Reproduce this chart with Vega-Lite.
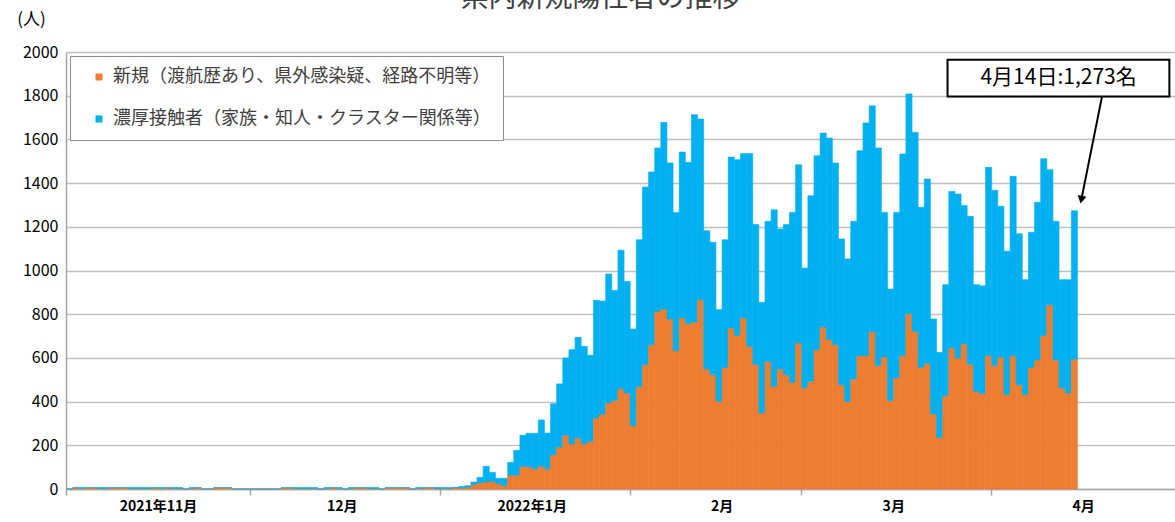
{
  "$schema": "https://vega.github.io/schema/vega-lite/v6.json",
  "autosize": "none",
  "width": 1109,
  "height": 437,
  "padding": {"left": 66, "top": 52, "right": 0, "bottom": 33},
  "background": "white",
  "title": {"text": "県内新規陽性者の推移", "fontSize": 28, "font": "Noto Sans CJK JP", "fontWeight": "normal", "color": "#404040", "anchor": "middle", "frame": "group", "offset": 0, "dx": -20, "dy": 3},
  "config": {"view": {"stroke": null}, "font": "Noto Sans CJK JP"},
  "layer": [
    {
      "data": {"values": [
        {"d":"2021-11-01","new":0,"close":0},{"d":"2021-11-02","new":6,"close":0},{"d":"2021-11-03","new":2,"close":5},{"d":"2021-11-04","new":6,"close":0},{"d":"2021-11-05","new":6,"close":0},{"d":"2021-11-06","new":2,"close":5},{"d":"2021-11-07","new":2,"close":5},{"d":"2021-11-08","new":6,"close":0},{"d":"2021-11-09","new":6,"close":0},{"d":"2021-11-10","new":6,"close":0},
        {"d":"2021-11-11","new":2,"close":5},{"d":"2021-11-12","new":2,"close":5},{"d":"2021-11-13","new":2,"close":5},{"d":"2021-11-14","new":2,"close":5},{"d":"2021-11-15","new":6,"close":0},{"d":"2021-11-16","new":2,"close":5},{"d":"2021-11-17","new":6,"close":0},{"d":"2021-11-18","new":2,"close":5},{"d":"2021-11-19","new":2,"close":5},{"d":"2021-11-20","new":0,"close":0},
        {"d":"2021-11-21","new":2,"close":5},{"d":"2021-11-22","new":6,"close":0},{"d":"2021-11-23","new":0,"close":0},{"d":"2021-11-24","new":0,"close":0},{"d":"2021-11-25","new":6,"close":0},{"d":"2021-11-26","new":6,"close":0},{"d":"2021-11-27","new":6,"close":0},{"d":"2021-11-28","new":0,"close":0},{"d":"2021-11-29","new":0,"close":0},{"d":"2021-11-30","new":0,"close":0},
        {"d":"2021-12-01","new":0,"close":0},{"d":"2021-12-02","new":0,"close":0},{"d":"2021-12-03","new":0,"close":0},{"d":"2021-12-04","new":0,"close":0},{"d":"2021-12-05","new":0,"close":0},{"d":"2021-12-06","new":6,"close":0},{"d":"2021-12-07","new":6,"close":0},{"d":"2021-12-08","new":2,"close":5},{"d":"2021-12-09","new":2,"close":5},{"d":"2021-12-10","new":2,"close":5},
        {"d":"2021-12-11","new":2,"close":5},{"d":"2021-12-12","new":0,"close":0},{"d":"2021-12-13","new":2,"close":5},{"d":"2021-12-14","new":6,"close":0},{"d":"2021-12-15","new":2,"close":5},{"d":"2021-12-16","new":0,"close":0},{"d":"2021-12-17","new":2,"close":5},{"d":"2021-12-18","new":6,"close":0},{"d":"2021-12-19","new":6,"close":0},{"d":"2021-12-20","new":2,"close":5},
        {"d":"2021-12-21","new":2,"close":5},{"d":"2021-12-22","new":0,"close":0},{"d":"2021-12-23","new":6,"close":0},{"d":"2021-12-24","new":6,"close":0},{"d":"2021-12-25","new":6,"close":0},{"d":"2021-12-26","new":6,"close":0},{"d":"2021-12-27","new":0,"close":0},{"d":"2021-12-28","new":2,"close":5},{"d":"2021-12-29","new":6,"close":0},{"d":"2021-12-30","new":6,"close":0},
        {"d":"2021-12-31","new":2,"close":5},
        {"d":"2022-01-01","new":2,"close":5},{"d":"2022-01-02","new":2,"close":5},{"d":"2022-01-03","new":7,"close":0},{"d":"2022-01-04","new":5,"close":7},{"d":"2022-01-05","new":8,"close":7},{"d":"2022-01-06","new":20,"close":12},{"d":"2022-01-07","new":27,"close":26},{"d":"2022-01-08","new":32,"close":72},{"d":"2022-01-09","new":35,"close":41},{"d":"2022-01-10","new":24,"close":25},
        {"d":"2022-01-11","new":15,"close":34},{"d":"2022-01-12","new":63,"close":59},{"d":"2022-01-13","new":63,"close":114},{"d":"2022-01-14","new":104,"close":142},{"d":"2022-01-15","new":101,"close":154},{"d":"2022-01-16","new":92,"close":163},{"d":"2022-01-17","new":104,"close":212},{"d":"2022-01-18","new":92,"close":164},{"d":"2022-01-19","new":156,"close":234},{"d":"2022-01-20","new":192,"close":289},
        {"d":"2022-01-21","new":246,"close":354},{"d":"2022-01-22","new":206,"close":432},{"d":"2022-01-23","new":233,"close":461},{"d":"2022-01-24","new":206,"close":447},{"d":"2022-01-25","new":218,"close":394},{"d":"2022-01-26","new":325,"close":539},{"d":"2022-01-27","new":343,"close":517},{"d":"2022-01-28","new":394,"close":590},{"d":"2022-01-29","new":405,"close":504},{"d":"2022-01-30","new":459,"close":634},
        {"d":"2022-01-31","new":439,"close":511},
        {"d":"2022-02-01","new":289,"close":443},{"d":"2022-02-02","new":468,"close":673},{"d":"2022-02-03","new":569,"close":813},{"d":"2022-02-04","new":660,"close":791},{"d":"2022-02-05","new":813,"close":748},{"d":"2022-02-06","new":824,"close":854},{"d":"2022-02-07","new":778,"close":714},{"d":"2022-02-08","new":633,"close":633},{"d":"2022-02-09","new":783,"close":759},{"d":"2022-02-10","new":757,"close":738},
        {"d":"2022-02-11","new":763,"close":950},{"d":"2022-02-12","new":866,"close":827},{"d":"2022-02-13","new":549,"close":633},{"d":"2022-02-14","new":523,"close":606},{"d":"2022-02-15","new":401,"close":420},{"d":"2022-02-16","new":556,"close":585},{"d":"2022-02-17","new":737,"close":782},{"d":"2022-02-18","new":702,"close":805},{"d":"2022-02-19","new":783,"close":752},{"d":"2022-02-20","new":653,"close":882},
        {"d":"2022-02-21","new":571,"close":639},{"d":"2022-02-22","new":348,"close":506},{"d":"2022-02-23","new":584,"close":641},{"d":"2022-02-24","new":469,"close":809},{"d":"2022-02-25","new":549,"close":641},{"d":"2022-02-26","new":523,"close":687},{"d":"2022-02-27","new":488,"close":778},{"d":"2022-02-28","new":668,"close":816},
        {"d":"2022-03-01","new":463,"close":548},{"d":"2022-03-02","new":493,"close":849},{"d":"2022-03-03","new":637,"close":888},{"d":"2022-03-04","new":741,"close":888},{"d":"2022-03-05","new":683,"close":923},{"d":"2022-03-06","new":660,"close":832},{"d":"2022-03-07","new":477,"close":667},{"d":"2022-03-08","new":401,"close":652},{"d":"2022-03-09","new":503,"close":722},{"d":"2022-03-10","new":610,"close":938},
        {"d":"2022-03-11","new":610,"close":1065},{"d":"2022-03-12","new":721,"close":1033},{"d":"2022-03-13","new":564,"close":997},{"d":"2022-03-14","new":604,"close":662},{"d":"2022-03-15","new":405,"close":510},{"d":"2022-03-16","new":508,"close":758},{"d":"2022-03-17","new":610,"close":923},{"d":"2022-03-18","new":802,"close":1006},{"d":"2022-03-19","new":721,"close":911},{"d":"2022-03-20","new":556,"close":733},
        {"d":"2022-03-21","new":575,"close":844},{"d":"2022-03-22","new":343,"close":435},{"d":"2022-03-23","new":236,"close":389},{"d":"2022-03-24","new":427,"close":508},{"d":"2022-03-25","new":645,"close":717},{"d":"2022-03-26","new":599,"close":751},{"d":"2022-03-27","new":665,"close":633},{"d":"2022-03-28","new":571,"close":677},{"d":"2022-03-29","new":447,"close":488},{"d":"2022-03-30","new":436,"close":494},
        {"d":"2022-03-31","new":611,"close":861},
        {"d":"2022-04-01","new":564,"close":803},{"d":"2022-04-02","new":604,"close":690},{"d":"2022-04-03","new":431,"close":657},{"d":"2022-04-04","new":610,"close":821},{"d":"2022-04-05","new":477,"close":691},{"d":"2022-04-06","new":431,"close":527},{"d":"2022-04-07","new":556,"close":619},{"d":"2022-04-08","new":590,"close":722},{"d":"2022-04-09","new":702,"close":810},{"d":"2022-04-10","new":843,"close":618},
        {"d":"2022-04-11","new":590,"close":635},{"d":"2022-04-12","new":463,"close":495},{"d":"2022-04-13","new":439,"close":519},{"d":"2022-04-14","new":594,"close":679}
      ]},
      "transform": [{"fold": ["new", "close"], "as": ["key", "value"]}],
      "mark": {"type": "bar", "binSpacing": 0, "strokeWidth": 0.6},
      "encoding": {
        "x": {"field": "d", "type": "temporal", "timeUnit": "utcyearmonthdate",
          "scale": {"type": "utc", "domain": [{"year": 2021, "month": 11, "date": 1, "utc": true}, {"year": 2022, "month": 5, "date": 1, "utc": true}]},
          "axis": {
            "title": null, "grid": false,
            "values": [{"year": 2021, "month": 11, "date": 1, "utc": true}, {"year": 2021, "month": 12, "date": 1, "utc": true}, {"year": 2022, "month": 1, "date": 1, "utc": true}, {"year": 2022, "month": 2, "date": 1, "utc": true}, {"year": 2022, "month": 3, "date": 1, "utc": true}, {"year": 2022, "month": 4, "date": 1, "utc": true}],
            "labelExpr": "utcmonth(datum.value) == 10 ? '2021年11月' : (utcmonth(datum.value) == 0 ? '2022年1月' : (utcmonth(datum.value) + 1) + '月')",
            "labelOffset": 92, "labelFlush": false, "labelOverlap": false,
            "labelFont": "Noto Sans CJK JP", "labelFontSize": 14, "labelFontWeight": "bold", "labelColor": "#000000", "labelPadding": 4,
            "domainColor": "#a6a6a6", "domainWidth": 1.5, "tickColor": "#a6a6a6", "tickSize": 6, "tickWidth": 1.5
          }
        },
        "y": {"field": "value", "type": "quantitative", "stack": "zero",
          "scale": {"domain": [0, 2000]},
          "axis": {
            "title": "(人)", "titleAngle": 0, "titleX": -35, "titleY": -33, "titleAlign": "center", "titleBaseline": "middle",
            "titleFont": "Noto Sans CJK JP", "titleFontSize": 17, "titleFontWeight": "normal", "titleColor": "#000000",
            "values": [0, 200, 400, 600, 800, 1000, 1200, 1400, 1600, 1800, 2000], "format": "d",
            "labelFont": "Noto Sans CJK JP", "labelFontSize": 16, "labelColor": "#000000", "labelPadding": 8,
            "ticks": false, "domainColor": "#a6a6a6", "domainWidth": 1.5,
            "gridColor": "#c0c0c0", "gridWidth": 1.5
          }
        },
        "color": {"field": "key", "type": "nominal",
          "scale": {"domain": ["new", "close"], "range": ["#ED7D31", "#00B0F0"]},
          "legend": {
            "title": null, "orient": "top-left", "offset": 4,
            "labelExpr": "datum.value == 'new' ? '新規（渡航歴あり、県外感染疑、経路不明等）' : '濃厚接触者（家族・知人・クラスター関係等）'",
            "labelFont": "Noto Sans CJK JP", "labelFontSize": 18, "labelColor": "#404040", "labelLimit": 600, "labelOffset": 5,
            "symbolType": "square", "symbolSize": 49, "symbolStrokeWidth": 0, "symbolOffset": 8,
            "rowPadding": 24, "padding": 12,
            "strokeColor": "#8c8c8c", "fillColor": "#ffffff"
          }
        },
        "stroke": {"field": "key", "type": "nominal",
          "scale": {"domain": ["new", "close"], "range": ["#ED7D31", "#00B0F0"]},
          "legend": null
        },
        "order": {"field": "key", "sort": "descending"}
      }
    },
    {
      "data": {"values": [{"x1": "2022-03-24T21:00:00Z", "x2": "2022-04-30T02:00:00Z", "y1": 1965, "y2": 1796}]},
      "mark": {"type": "rect", "fill": "#ffffff", "stroke": "#000000", "strokeWidth": 2},
      "encoding": {
        "x": {"field": "x1", "type": "temporal"},
        "x2": {"field": "x2"},
        "y": {"field": "y1", "type": "quantitative"},
        "y2": {"field": "y2"}
      }
    },
    {
      "data": {"values": [{"x": "2022-04-12T00:00:00Z", "y": 1880, "label": "4月14日:1,273名"}]},
      "mark": {"type": "text", "fontSize": 21, "font": "Noto Sans CJK JP", "color": "#000000", "align": "center", "baseline": "middle"},
      "encoding": {
        "x": {"field": "x", "type": "temporal"},
        "y": {"field": "y", "type": "quantitative"},
        "text": {"field": "label"}
      }
    },
    {
      "data": {"values": [{"x1": "2022-04-19T02:00:00Z", "y1": 1796, "x2": "2022-04-15T17:00:00Z", "y2": 1324}]},
      "mark": {"type": "rule", "color": "#000000", "strokeWidth": 2},
      "encoding": {
        "x": {"field": "x1", "type": "temporal"},
        "x2": {"field": "x2"},
        "y": {"field": "y1", "type": "quantitative"},
        "y2": {"field": "y2"}
      }
    },
    {
      "data": {"values": [{"x": "2022-04-15T17:00:00Z", "y": 1324}]},
      "mark": {"type": "point", "shape": "triangle-down", "filled": true, "color": "#000000", "size": 80, "angle": 12, "opacity": 1},
      "encoding": {
        "x": {"field": "x", "type": "temporal"},
        "y": {"field": "y", "type": "quantitative"}
      }
    }
  ]
}
